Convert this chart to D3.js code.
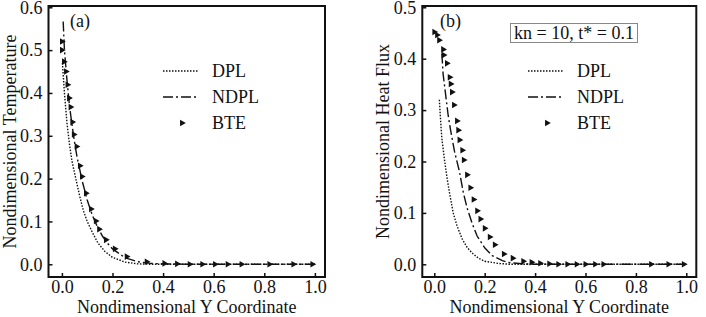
<!DOCTYPE html>
<html>
<head>
<meta charset="utf-8">
<script src="https://cdn.jsdelivr.net/npm/d3@7"></script>
<style>
  body { margin: 0; background: #fff; }
  text { font-family: "Liberation Serif", "DejaVu Serif", serif; fill: #111; }
</style>
</head>
<body>
<svg id="chart" width="706" height="317"></svg>
<script>
// panel (a): temperature
const tempDPL = [
  [0.002, 0.47], [0.01, 0.40], [0.02, 0.33], [0.03, 0.28], [0.04, 0.24],
  [0.055, 0.20], [0.07, 0.16], [0.085, 0.125], [0.10, 0.10], [0.12, 0.075],
  [0.142, 0.05], [0.17, 0.03], [0.20, 0.016], [0.25, 0.005], [0.30, 0.001],
  [0.35, 0], [1.0, 0]
];
const tempNDPL = [
  [0.005, 0.567], [0.01, 0.50], [0.02, 0.43], [0.03, 0.37], [0.04, 0.325],
  [0.05, 0.285], [0.06, 0.25], [0.08, 0.195], [0.10, 0.15], [0.12, 0.115],
  [0.14, 0.088], [0.16, 0.066], [0.18, 0.049], [0.20, 0.036], [0.25, 0.015],
  [0.30, 0.006], [0.35, 0.002], [0.40, 0.001], [0.50, 0], [1.0, 0]
];
const tempBTE = [
  [0.0, 0.52], [0.0, 0.50], [0.008, 0.473], [0.016, 0.45], [0.022, 0.419],
  [0.028, 0.388], [0.034, 0.367], [0.041, 0.332], [0.047, 0.303], [0.058, 0.275],
  [0.071, 0.23], [0.079, 0.205], [0.095, 0.166], [0.115, 0.129], [0.134, 0.101],
  [0.147, 0.082], [0.174, 0.057], [0.209, 0.036], [0.256, 0.018], [0.335, 0.006],
  [0.405, 0.002], [0.455, 0.001], [0.505, 0], [0.555, 0], [0.605, 0],
  [0.655, 0], [0.71, 0], [0.82, 0], [0.915, 0], [0.99, 0]
];

// panel (b): heat flux
const fluxDPL = [
  [0.02, 0.32], [0.025, 0.28], [0.03, 0.245], [0.04, 0.205], [0.05, 0.17],
  [0.06, 0.14], [0.075, 0.10], [0.09, 0.075], [0.11, 0.05], [0.13, 0.033],
  [0.15, 0.022], [0.175, 0.012], [0.20, 0.006], [0.25, 0.002], [0.30, 0],
  [1.0, 0]
];
const fluxNDPL = [
  [0.03, 0.41], [0.035, 0.37], [0.045, 0.33], [0.055, 0.29], [0.065, 0.26],
  [0.08, 0.22], [0.10, 0.18], [0.115, 0.14], [0.13, 0.11], [0.15, 0.08],
  [0.17, 0.055], [0.20, 0.032], [0.23, 0.017], [0.27, 0.007], [0.30, 0.003],
  [0.35, 0.001], [0.40, 0], [1.0, 0]
];
const fluxBTE = [
  [0.0, 0.452], [0.011, 0.446], [0.019, 0.436], [0.035, 0.418], [0.037, 0.407],
  [0.05, 0.391], [0.061, 0.364], [0.065, 0.351], [0.07, 0.335], [0.078, 0.31],
  [0.09, 0.279], [0.095, 0.261], [0.10, 0.242], [0.111, 0.222], [0.117, 0.203],
  [0.13, 0.174], [0.143, 0.149], [0.156, 0.126], [0.17, 0.104], [0.183, 0.088],
  [0.20, 0.07], [0.22, 0.053], [0.24, 0.038], [0.276, 0.02], [0.311, 0.012],
  [0.353, 0.006], [0.386, 0.004], [0.42, 0.002], [0.456, 0.001], [0.492, 0],
  [0.528, 0], [0.565, 0], [0.60, 0], [0.638, 0], [0.671, 0],
  [0.86, 0], [0.929, 0], [0.99, 0]
];

const xTicks = [0, 0.2, 0.4, 0.6, 0.8, 1.0];
const tempTicks = [0, 0.1, 0.2, 0.3, 0.4, 0.5, 0.6];
const fluxTicks = [0, 0.1, 0.2, 0.3, 0.4, 0.5];
const seriesNames = ["DPL", "NDPL", "BTE"];

const svg = d3.select("#chart");

const panels = [
  {
    left: 48.5, right: 325, top: 6, bottom: 277,
    xDomain: [-0.053, 1.04], yDomain: [-0.0297, 0.603],
    yTicks: tempTicks, yTitle: "Nondimensional Temperature", yTitleX: 10,
    tag: "(a)", tagX: 70,
    dpl: tempDPL, ndpl: tempNDPL, bte: tempBTE,
    legX: 163, legY: 71, note: null
  },
  {
    left: 422.3, right: 696.3, top: 6, bottom: 277,
    xDomain: [-0.0476, 1.0397], yDomain: [-0.0247, 0.5025],
    yTicks: fluxTicks, yTitle: "Nondimensional Heat Flux", yTitleX: 383,
    tag: "(b)", tagX: 440,
    dpl: fluxDPL, ndpl: fluxNDPL, bte: fluxBTE,
    legX: 528, legY: 71, note: "kn = 10, t* = 0.1"
  }
];

const tri = d3.symbol().type(d3.symbolTriangle).size(19);

panels.forEach((p) => {
  const x = d3.scaleLinear().domain(p.xDomain).range([p.left, p.right]);
  const y = d3.scaleLinear().domain(p.yDomain).range([p.bottom, p.top]);
  const g = svg.append("g");

  // axes, ticks pointing inward
  g.append("g")
    .attr("transform", `translate(0,${p.bottom})`)
    .call(d3.axisBottom(x).tickValues(xTicks).tickSizeInner(-4).tickSizeOuter(0)
      .tickPadding(3.5).tickFormat(d3.format(".1f")))
    .call((a) => a.select(".domain").remove())
    .call((a) => a.selectAll("line").attr("stroke", "#111").attr("stroke-width", 1.5))
    .call((a) => a.selectAll("text").attr("font-size", 18).attr("fill", "#111"));

  g.append("g")
    .attr("transform", `translate(${p.left},0)`)
    .call(d3.axisLeft(y).tickValues(p.yTicks).tickSizeInner(-4).tickSizeOuter(0)
      .tickPadding(6).tickFormat(d3.format(".1f")))
    .call((a) => a.select(".domain").remove())
    .call((a) => a.selectAll("line").attr("stroke", "#111").attr("stroke-width", 1.5))
    .call((a) => a.selectAll("text").attr("font-size", 18).attr("fill", "#111"));

  // frame
  g.append("rect")
    .attr("x", p.left).attr("y", p.top)
    .attr("width", p.right - p.left).attr("height", p.bottom - p.top)
    .attr("fill", "none").attr("stroke", "#111").attr("stroke-width", 2);

  // titles
  g.append("text")
    .attr("x", (p.left + p.right) / 2).attr("y", 313)
    .attr("text-anchor", "middle").attr("font-size", 18)
    .text("Nondimensional Y Coordinate");
  g.append("text")
    .attr("transform", `translate(${p.yTitleX},${(p.top + p.bottom) / 2}) rotate(-90)`)
    .attr("text-anchor", "middle").attr("dy", "0.35em").attr("font-size", 18)
    .text(p.yTitle);

  g.append("text").attr("x", p.tagX).attr("y", 27).attr("font-size", 18).text(p.tag);

  const line = d3.line().x((d) => x(d[0])).y((d) => y(d[1]));

  g.append("path").datum(p.dpl).attr("d", line)
    .attr("fill", "none").attr("stroke", "#111").attr("stroke-width", 1.4)
    .attr("stroke-dasharray", "1.5,1.5");
  g.append("path").datum(p.ndpl).attr("d", line)
    .attr("fill", "none").attr("stroke", "#111").attr("stroke-width", 1.4)
    .attr("stroke-dasharray", "10,3,2,3");

  g.selectAll(".bte").data(p.bte).enter().append("path")
    .attr("class", "bte")
    .attr("d", tri)
    .attr("transform", (d) => `translate(${x(d[0])},${y(d[1])}) rotate(90)`)
    .attr("fill", "#111");

  // legend
  const leg = g.append("g");
  leg.append("line").attr("x1", p.legX).attr("x2", p.legX + 35)
    .attr("y1", p.legY).attr("y2", p.legY)
    .attr("stroke", "#111").attr("stroke-width", 1.4).attr("stroke-dasharray", "1.5,1.5");
  leg.append("line").attr("x1", p.legX).attr("x2", p.legX + 35)
    .attr("y1", p.legY + 26).attr("y2", p.legY + 26)
    .attr("stroke", "#111").attr("stroke-width", 1.4).attr("stroke-dasharray", "10,3,2,3");
  leg.append("path").attr("d", tri)
    .attr("transform", `translate(${p.legX + 19},${p.legY + 52}) rotate(90)`)
    .attr("fill", "#111");
  leg.selectAll("text").data(seriesNames).enter().append("text")
    .attr("x", p.legX + 49).attr("y", (d, i) => p.legY + i * 26)
    .attr("dy", "0.35em").attr("font-size", 18)
    .text((d) => d);

  if (p.note) {
    g.append("rect").attr("x", 510.5).attr("y", 23.5).attr("width", 127).attr("height", 19)
      .attr("fill", "#fff").attr("stroke", "#888").attr("stroke-width", 1);
    g.append("text").attr("x", 574).attr("y", 33).attr("dy", "0.35em")
      .attr("text-anchor", "middle").attr("font-size", 18).text(p.note);
  }
});
</script>
</body>
</html>
